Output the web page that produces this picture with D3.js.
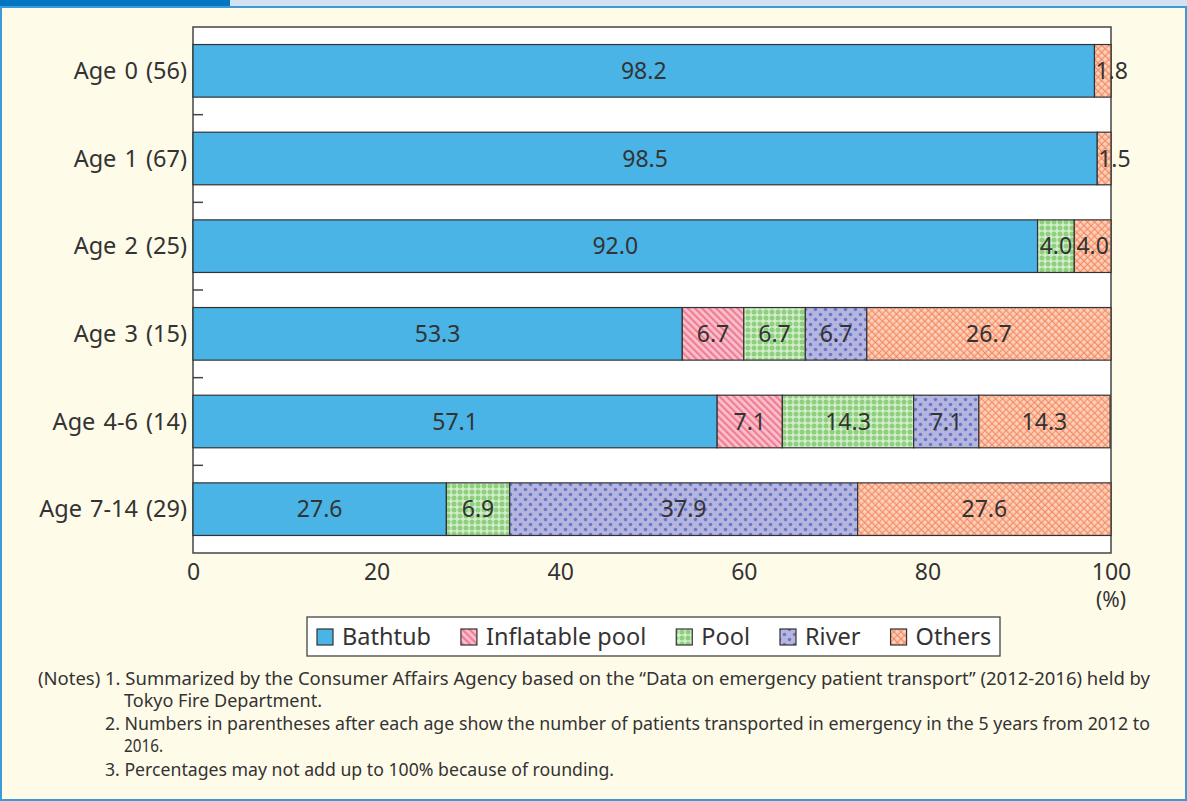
<!DOCTYPE html>
<html>
<meta charset="utf-8">
<script src="https://d3js.org/d3.v7.min.js"></script>
<style>
  body { margin: 0; background: #fffbe9; }
  text { font-family: "Noto Sans", "Open Sans", sans-serif; fill: #333; }
</style>
<body>
<div id="chart"></div>
<script>
// data (percent of cases by place, per age group)
const ages = ["Age 0 (56)", "Age 1 (67)", "Age 2 (25)", "Age 3 (15)", "Age 4-6 (14)", "Age 7-14 (29)"];
const places = ["Bathtub", "Inflatable pool", "Pool", "River", "Others"];
const bathtub   = [98.2, 98.5, 92.0, 53.3, 57.1, 27.6];
const inflatable = [0, 0, 0, 6.7, 7.1, 0];
const pool      = [0, 0, 4.0, 6.7, 14.3, 6.9];
const river     = [0, 0, 0, 6.7, 7.1, 37.9];
const others    = [1.8, 1.5, 4.0, 26.7, 14.3, 27.6];
const xTicks = [0, 20, 40, 60, 80, 100];
const notes = [
  "(Notes) 1. Summarized by the Consumer Affairs Agency based on the \u201cData on emergency patient transport\u201d (2012-2016) held by",
  "Tokyo Fire Department.",
  "2. Numbers in parentheses after each age show the number of patients transported in emergency in the 5 years from 2012 to",
  "2016.",
  "3. Percentages may not add up to 100% because of rounding."
];

const series = [bathtub, inflatable, pool, river, others];
const rows = ages.map((a, i) => {
  const r = { age: a };
  places.forEach((p, j) => r[p] = series[j][i]);
  return r;
});

const W = 1187, H = 801;
const margin = { top: 27, right: 76, bottom: 248, left: 193 };
const width = W - margin.left - margin.right,
      height = H - margin.top - margin.bottom;

const root = d3.select("#chart").append("svg")
  .attr("width", W).attr("height", H);

// patterns for the hatched categories
const defs = root.append("defs");
const pStripe = defs.append("pattern").attr("id", "p-infl")
  .attr("patternUnits", "userSpaceOnUse").attr("width", 5).attr("height", 5)
  .attr("patternTransform", "rotate(-45)");
pStripe.append("rect").attr("width", 5).attr("height", 5).attr("fill", "#fac0cb");
pStripe.append("rect").attr("width", 2.2).attr("height", 5).attr("fill", "#ef7d95");

const pPool = defs.append("pattern").attr("id", "p-pool")
  .attr("patternUnits", "userSpaceOnUse").attr("width", 6).attr("height", 6);
pPool.append("rect").attr("width", 6).attr("height", 6).attr("fill", "#d3eecb");
pPool.append("circle").attr("cx", 3).attr("cy", 3).attr("r", 2.5).attr("fill", "#8fd07f");

const pRiver = defs.append("pattern").attr("id", "p-river")
  .attr("patternUnits", "userSpaceOnUse").attr("width", 10).attr("height", 10);
pRiver.append("rect").attr("width", 10).attr("height", 10).attr("fill", "#b5b5de");
pRiver.append("circle").attr("cx", 2.5).attr("cy", 2.5).attr("r", 1.8).attr("fill", "#6879cc");
pRiver.append("circle").attr("cx", 7.5).attr("cy", 7.5).attr("r", 1.8).attr("fill", "#6879cc");

const pOther = defs.append("pattern").attr("id", "p-other")
  .attr("patternUnits", "userSpaceOnUse").attr("width", 5).attr("height", 5)
  .attr("patternTransform", "rotate(45)");
pOther.append("rect").attr("width", 5).attr("height", 5).attr("fill", "#fcc3a6");
pOther.append("path").attr("d", "M0,0H5M0,0V5").attr("stroke", "#f27a55").attr("stroke-width", 1.3);
pOther.append("circle").attr("cx", 2.5).attr("cy", 2.5).attr("r", 1.1).attr("fill", "#fde0cf");

const fills = {
  "Bathtub": "#4ab4e6",
  "Inflatable pool": "url(#p-infl)",
  "Pool": "url(#p-pool)",
  "River": "url(#p-river)",
  "Others": "url(#p-other)"
};

// frame + header strip
root.append("rect").attr("x", 1).attr("y", 7).attr("width", W - 2).attr("height", H - 8)
  .attr("fill", "#fffbe9").attr("stroke", "#3d9ad8").attr("stroke-width", 2);
root.append("rect").attr("x", 0).attr("y", 0).attr("width", W).attr("height", 6).attr("fill", "#d3e2f2");
root.append("rect").attr("x", 0).attr("y", 0).attr("width", 230).attr("height", 6).attr("fill", "#0077c0");

const svg = root.append("g")
  .attr("transform", "translate(" + margin.left + "," + margin.top + ")");

const x = d3.scaleLinear().domain([0, 100]).range([0, width]);
const y = d3.scaleBand().domain(ages).range([0, height]).paddingInner(0.4).paddingOuter(0.2);

svg.append("rect").attr("width", width).attr("height", height)
  .attr("fill", "#fff").attr("stroke", "#444").attr("stroke-width", 1.5);

// row separators on the left edge
svg.selectAll(".sep").data(ages.slice(1))
  .enter().append("line")
  .attr("x1", 0).attr("x2", 10)
  .attr("y1", d => y(d) - y.step() * y.paddingInner() / 2)
  .attr("y2", d => y(d) - y.step() * y.paddingInner() / 2)
  .attr("stroke", "#444").attr("stroke-width", 1.5);

const stacked = d3.stack().keys(places)(rows);

const layer = svg.selectAll(".layer").data(stacked)
  .enter().append("g").attr("class", "layer")
  .attr("fill", d => fills[d.key]);

layer.selectAll("rect").data(d => d.filter(s => s.data[d.key] > 0))
  .enter().append("rect")
  .attr("x", d => x(d[0]))
  .attr("width", d => x(Math.min(d[1], 100)) - x(d[0]))
  .attr("y", d => y(d.data.age))
  .attr("height", y.bandwidth())
  .attr("stroke", "#333").attr("stroke-width", 1.2);

layer.each(function(lay) {
  d3.select(this).selectAll("text").data(lay.filter(s => s.data[lay.key] > 0))
    .enter().append("text")
    .attr("y", d => y(d.data.age) + y.bandwidth() / 2)
    .attr("dy", "0.35em")
    .style("font-size", "23px")
    .text(d => d.data[lay.key].toFixed(1))
    .each(function(d) {
      const w = x(Math.min(d[1], 100)) - x(d[0]);
      const tw = this.getComputedTextLength();
      if (tw > w) {
        d3.select(this).attr("x", x(d[0]) + 1).attr("text-anchor", "start");
      } else {
        d3.select(this).attr("x", (x(d[0]) + x(Math.min(d[1], 100))) / 2).attr("text-anchor", "middle");
      }
    });
});

// category labels
svg.selectAll(".age").data(ages)
  .enter().append("text")
  .attr("x", -6)
  .attr("y", d => y(d) + y.bandwidth() / 2)
  .attr("dy", "0.35em")
  .attr("text-anchor", "end")
  .style("font-size", "23.5px")
  .style("word-spacing", "2px")
  .text(d => d);

// x axis labels
const xAxis = svg.append("g")
  .attr("transform", "translate(0," + height + ")")
  .call(d3.axisBottom(x).tickValues(xTicks).tickSize(0).tickPadding(11));
xAxis.select(".domain").remove();
xAxis.selectAll("text").style("font-size", "23px").attr("fill", "#333")
  .style("font-family", "'Noto Sans', sans-serif");

svg.append("text").attr("x", x(100)).attr("y", height + 47)
  .attr("dy", "0.35em")
  .attr("text-anchor", "middle").style("font-size", "21px").text("(%)");

// legend
const legend = root.append("g").attr("transform", "translate(307,617)");
legend.append("rect").attr("width", 693).attr("height", 39)
  .attr("fill", "#fff").attr("stroke", "#444").attr("stroke-width", 1.3);
let lx = 10;
places.forEach(p => {
  legend.append("rect").attr("x", lx).attr("y", 12).attr("width", 16).attr("height", 16)
    .attr("fill", fills[p]).attr("stroke", "#333").attr("stroke-width", 1.2);
  const t = legend.append("text").attr("x", lx + 25).attr("y", 20).attr("dy", "0.35em")
    .style("font-size", "23.5px").text(p);
  lx += 25 + t.node().getComputedTextLength() + 30;
});

// notes (original face is condensed, so squeeze each line to its width)
const noteX = [38, 124, 105, 124, 105];
const noteY = [685, 707, 730, 752, 776];
const noteEnd = [1150, 322, 1150, 163, 614];
notes.forEach((n, i) => {
  root.append("text").attr("x", noteX[i]).attr("y", noteY[i])
    .style("font-size", "18px").text(n)
    .attr("textLength", noteEnd[i] - noteX[i]).attr("lengthAdjust", "spacingAndGlyphs");
});
</script>
</body>
</html>
